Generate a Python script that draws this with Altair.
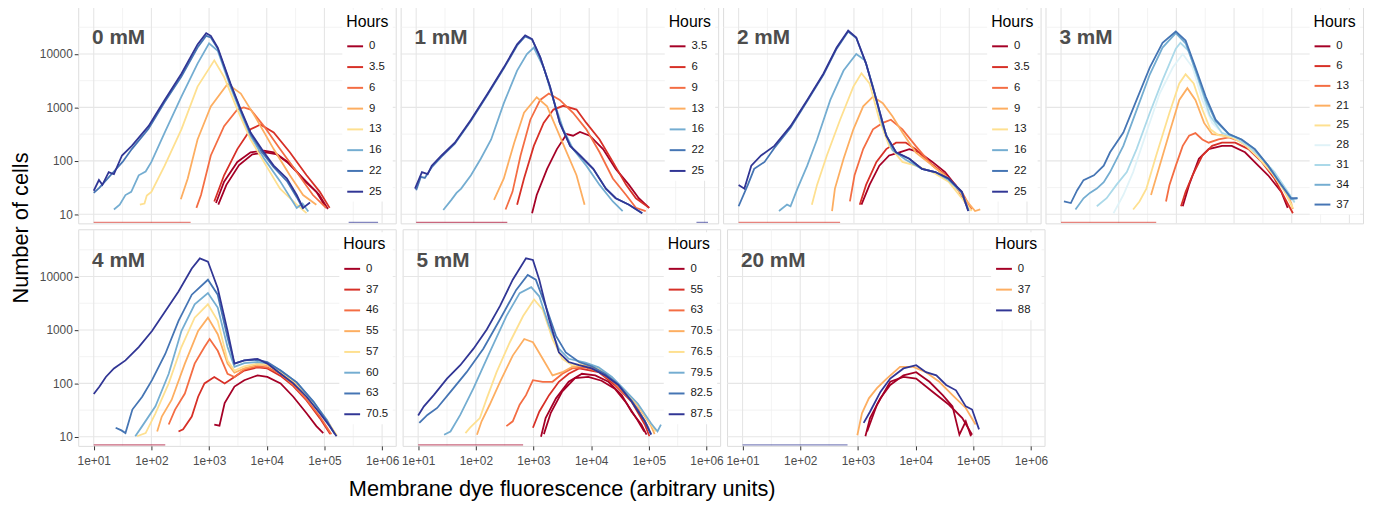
import altair as alt
import pandas as pd

FONT = "Liberation Sans"

PANELS = ["0 mM", "1 mM", "2 mM", "3 mM", "4 mM", "5 mM", "20 mM"]

HOURS = {
    "0 mM": ["0", "3.5", "6", "9", "13", "16", "22", "25"],
    "1 mM": ["3.5", "6", "9", "13", "16", "22", "25"],
    "2 mM": ["0", "3.5", "6", "9", "13", "16", "22", "25"],
    "3 mM": ["0", "6", "13", "21", "25", "28", "31", "34", "37"],
    "4 mM": ["0", "37", "46", "55", "57", "60", "63", "70.5"],
    "5 mM": ["0", "55", "63", "70.5", "76.5", "79.5", "82.5", "87.5"],
    "20 mM": ["0", "37", "88"],
}

COLORS = {
    "0 mM": ["#a50026", "#d73027", "#f46d43", "#fdae61", "#fee090", "#74add1", "#4575b4", "#313695"],
    "1 mM": ["#a50026", "#d73027", "#f46d43", "#fdae61", "#74add1", "#4575b4", "#313695"],
    "2 mM": ["#a50026", "#d73027", "#f46d43", "#fdae61", "#fee090", "#74add1", "#4575b4", "#313695"],
    "3 mM": ["#a50026", "#d73027", "#f46d43", "#fdae61", "#fee090", "#e0f3f8", "#abd9e9", "#74add1", "#4575b4"],
    "4 mM": ["#a50026", "#d73027", "#f46d43", "#fdae61", "#fee090", "#74add1", "#4575b4", "#313695"],
    "5 mM": ["#a50026", "#d73027", "#f46d43", "#fdae61", "#fee090", "#74add1", "#4575b4", "#313695"],
    "20 mM": ["#a50026", "#fdae61", "#313695"],
}

# Each curve: (hours, replicate, [log10 fluorescence, log10 cells, ...])
CURVES_0 = [
    ("0", "a", [3.12, 1.21, 3.26, 1.61, 3.49, 1.98, 3.72, 2.16, 3.95, 2.19, 4.12, 2.16, 4.35, 1.98, 4.63, 1.67, 4.86, 1.42, 5.03, 1.12]),
    ("0", "b", [3.16, 1.18, 3.30, 1.55, 3.52, 1.92, 3.75, 2.12, 3.98, 2.16, 4.18, 2.12, 4.40, 1.95, 4.66, 1.62, 4.90, 1.38, 5.06, 1.10]),
    ("3.5", "a", [3.09, 1.24, 3.26, 1.73, 3.49, 2.22, 3.72, 2.59, 3.89, 2.68, 4.12, 2.53, 4.40, 2.16, 4.69, 1.73, 4.92, 1.42, 5.09, 1.12]),
    ("6", "a", [2.78, 1.12, 2.86, 1.36, 3.03, 2.10, 3.26, 2.65, 3.49, 2.96, 3.60, 3.00, 3.72, 2.96, 3.95, 2.65, 4.23, 2.22, 4.52, 1.79, 4.80, 1.36, 5.03, 1.12]),
    ("9", "a", [2.51, 1.28, 2.63, 1.67, 2.80, 2.40, 3.03, 3.02, 3.32, 3.44, 3.55, 3.26, 3.83, 2.77, 4.12, 2.22, 4.40, 1.73, 4.63, 1.36, 4.86, 1.18]),
    ("13", "a", [1.80, 1.18, 1.88, 1.20, 1.92, 1.35, 2.00, 1.42, 2.23, 1.91, 2.52, 2.59, 2.80, 3.39, 3.09, 3.88, 3.26, 3.57, 3.49, 2.96, 3.72, 2.40, 3.95, 1.98, 4.23, 1.48, 4.52, 1.18, 4.69, 1.02]),
    ("16", "a", [1.35, 1.09, 1.45, 1.18, 1.55, 1.36, 1.65, 1.42, 1.78, 1.73, 1.90, 1.80, 2.00, 1.98, 2.23, 2.53, 2.52, 3.20, 2.80, 3.82, 3.00, 4.20, 3.15, 4.06, 3.37, 3.39, 3.55, 2.90, 3.72, 2.47, 3.95, 2.05, 4.23, 1.62, 4.52, 1.12, 4.62, 1.20, 4.72, 1.05]),
    ("22", "a", [1.00, 1.40, 1.10, 1.50, 1.20, 1.62, 1.35, 1.80, 1.50, 1.98, 1.66, 2.22, 1.95, 2.60, 2.23, 3.10, 2.52, 3.58, 2.80, 4.12, 2.95, 4.34, 3.03, 4.31, 3.15, 4.10, 3.37, 3.43, 3.55, 2.94, 3.72, 2.50, 3.95, 2.12, 4.12, 1.88, 4.35, 1.62, 4.52, 1.32, 4.63, 1.10]),
    ("25", "a", [1.00, 1.44, 1.09, 1.64, 1.15, 1.55, 1.26, 1.79, 1.35, 1.75, 1.49, 2.10, 1.66, 2.28, 1.95, 2.65, 2.23, 3.14, 2.52, 3.63, 2.80, 4.18, 2.95, 4.39, 3.03, 4.34, 3.15, 4.12, 3.37, 3.45, 3.55, 2.96, 3.72, 2.53, 3.95, 2.16, 4.12, 1.91, 4.35, 1.67, 4.52, 1.36, 4.63, 1.12, 4.75, 1.22]),
]
CURVES_1 = [
    ("3.5", "a", [3.01, 1.02, 3.09, 1.36, 3.27, 1.85, 3.44, 2.22, 3.61, 2.50, 3.72, 2.47, 3.84, 2.54, 4.01, 2.47, 4.24, 2.22, 4.46, 1.85, 4.69, 1.55, 4.86, 1.30, 5.04, 1.12]),
    ("6", "a", [2.75, 1.18, 2.87, 1.67, 3.04, 2.28, 3.21, 2.71, 3.38, 2.96, 3.55, 3.03, 3.78, 2.96, 3.95, 2.71, 4.18, 2.40, 4.41, 1.98, 4.64, 1.55, 4.81, 1.30, 5.04, 1.12]),
    ("9", "a", [2.55, 1.09, 2.67, 1.42, 2.81, 2.10, 2.98, 2.77, 3.15, 3.14, 3.30, 3.26, 3.49, 3.14, 3.72, 2.90, 3.95, 2.59, 4.18, 2.16, 4.41, 1.67, 4.64, 1.36, 4.81, 1.12, 4.98, 1.06]),
    ("13", "a", [2.35, 1.27, 2.52, 1.67, 2.70, 2.34, 2.87, 2.90, 3.09, 3.19, 3.27, 3.02, 3.44, 2.59, 3.61, 2.16, 3.78, 1.73, 3.92, 1.18]),
    ("16", "a", [1.47, 1.08, 1.61, 1.27, 1.70, 1.40, 1.78, 1.48, 1.95, 1.73, 2.12, 2.04, 2.30, 2.40, 2.52, 3.08, 2.75, 3.69, 2.92, 4.00, 3.04, 4.12, 3.21, 3.75, 3.38, 3.14, 3.55, 2.59, 3.72, 2.22, 3.95, 1.91, 4.18, 1.55, 4.41, 1.24, 4.58, 1.06]),
    ("22", "a", [1.00, 1.45, 1.08, 1.70, 1.15, 1.68, 1.27, 1.88, 1.44, 2.08, 1.67, 2.32, 1.95, 2.75, 2.24, 3.24, 2.52, 3.73, 2.75, 4.16, 2.89, 4.33, 3.01, 4.27, 3.15, 3.94, 3.32, 3.39, 3.49, 2.71, 3.67, 2.28, 3.84, 2.10, 4.07, 1.85, 4.29, 1.48, 4.46, 1.30, 4.69, 1.18, 4.92, 1.02]),
    ("25", "a", [0.98, 1.48, 1.10, 1.79, 1.20, 1.75, 1.27, 1.91, 1.44, 2.10, 1.67, 2.34, 1.95, 2.77, 2.24, 3.26, 2.52, 3.75, 2.75, 4.18, 2.89, 4.35, 3.01, 4.28, 3.15, 3.94, 3.32, 3.39, 3.49, 2.71, 3.67, 2.28, 3.84, 2.10, 4.07, 1.85, 4.29, 1.48, 4.46, 1.30, 4.69, 1.18, 4.92, 1.02]),
]
CURVES_2 = [
    ("0", "a", [3.13, 1.18, 3.27, 1.55, 3.44, 1.91, 3.61, 2.10, 3.79, 2.16, 3.96, 2.22, 4.13, 2.16, 4.36, 1.98, 4.58, 1.79, 4.81, 1.48, 4.98, 1.12]),
    ("3.5", "a", [3.10, 1.18, 3.21, 1.55, 3.39, 1.98, 3.56, 2.22, 3.73, 2.34, 3.90, 2.34, 4.07, 2.22, 4.30, 1.98, 4.53, 1.79, 4.76, 1.55, 4.98, 1.12]),
    ("6", "a", [2.93, 1.24, 3.01, 1.73, 3.16, 2.22, 3.33, 2.59, 3.50, 2.71, 3.64, 2.77, 3.84, 2.59, 4.07, 2.28, 4.36, 1.91, 4.64, 1.67, 4.87, 1.42, 5.04, 1.09]),
    ("9", "a", [2.62, 1.06, 2.67, 1.48, 2.82, 2.04, 2.99, 2.59, 3.16, 3.02, 3.33, 3.20, 3.50, 3.08, 3.67, 2.83, 3.84, 2.53, 4.07, 2.16, 4.36, 1.91, 4.64, 1.67, 4.87, 1.36, 5.10, 1.06, 5.19, 1.09]),
    ("13", "a", [2.27, 1.18, 2.36, 1.55, 2.53, 2.10, 2.76, 2.77, 2.99, 3.39, 3.13, 3.64, 3.27, 3.45, 3.44, 2.77, 3.61, 2.28, 3.84, 1.98, 4.07, 1.91, 4.36, 1.79, 4.64, 1.61, 4.87, 1.30, 5.04, 1.06]),
    ("16", "a", [1.70, 1.06, 1.84, 1.18, 1.90, 1.15, 2.02, 1.48, 2.19, 1.91, 2.36, 2.40, 2.59, 3.14, 2.82, 3.69, 3.04, 4.00, 3.19, 3.88, 3.33, 3.39, 3.50, 2.65, 3.67, 2.20, 3.90, 2.02, 4.18, 1.85, 4.41, 1.79, 4.64, 1.64, 4.87, 1.40, 4.98, 1.08]),
    ("22", "a", [1.00, 1.15, 1.16, 1.55, 1.27, 1.85, 1.45, 1.98, 1.62, 2.24, 1.90, 2.62, 2.19, 3.12, 2.47, 3.61, 2.70, 4.10, 2.90, 4.42, 3.04, 4.30, 3.21, 3.82, 3.39, 3.14, 3.56, 2.47, 3.73, 2.16, 3.96, 2.04, 4.18, 1.85, 4.41, 1.79, 4.64, 1.67, 4.87, 1.42, 4.99, 1.06]),
    ("25", "a", [1.00, 1.55, 1.10, 1.48, 1.22, 1.91, 1.39, 2.10, 1.62, 2.28, 1.90, 2.65, 2.19, 3.14, 2.47, 3.63, 2.70, 4.12, 2.90, 4.44, 3.04, 4.31, 3.21, 3.82, 3.39, 3.14, 3.56, 2.47, 3.73, 2.16, 3.96, 2.04, 4.18, 1.85, 4.41, 1.79, 4.64, 1.67, 4.87, 1.42, 4.98, 1.06]),
]
CURVES_3 = [
    ("0", "a", [3.11, 1.15, 3.22, 1.55, 3.39, 2.04, 3.56, 2.22, 3.79, 2.28, 3.96, 2.28, 4.19, 2.16, 4.42, 1.91, 4.59, 1.73, 4.82, 1.42, 4.93, 1.12]),
    ("6", "a", [3.08, 1.15, 3.16, 1.42, 3.28, 1.73, 3.45, 2.10, 3.62, 2.28, 3.79, 2.34, 4.02, 2.34, 4.25, 2.22, 4.48, 1.98, 4.70, 1.67, 4.88, 1.30, 5.02, 1.02]),
    ("13", "a", [2.82, 1.24, 2.88, 1.55, 2.99, 1.91, 3.11, 2.28, 3.22, 2.47, 3.33, 2.52, 3.45, 2.40, 3.56, 2.34, 3.73, 2.40, 3.91, 2.44, 4.13, 2.36, 4.36, 2.18, 4.59, 1.90, 4.82, 1.55, 5.00, 1.18]),
    ("21", "a", [2.56, 1.36, 2.71, 1.91, 2.88, 2.53, 3.05, 3.14, 3.19, 3.36, 3.33, 3.14, 3.48, 2.71, 3.62, 2.50, 3.79, 2.48, 4.02, 2.42, 4.25, 2.26, 4.48, 2.02, 4.70, 1.75, 4.93, 1.38, 5.02, 1.10]),
    ("25", "a", [2.25, 1.09, 2.36, 1.24, 2.48, 1.48, 2.65, 2.10, 2.88, 2.90, 3.05, 3.45, 3.16, 3.62, 3.30, 3.45, 3.45, 2.96, 3.59, 2.59, 3.73, 2.48, 3.96, 2.44, 4.19, 2.30, 4.42, 2.06, 4.65, 1.78, 4.88, 1.42, 5.02, 1.12]),
    ("28", "a", [1.91, 1.02, 2.08, 1.36, 2.25, 1.79, 2.48, 2.53, 2.71, 3.26, 2.94, 3.75, 3.11, 4.00, 3.28, 3.75, 3.45, 3.14, 3.62, 2.71, 3.79, 2.53, 4.02, 2.44, 4.25, 2.28, 4.48, 2.04, 4.70, 1.79, 4.93, 1.42, 5.05, 1.24]),
    ("31", "a", [1.62, 1.15, 1.79, 1.30, 1.96, 1.55, 2.14, 1.79, 2.31, 2.22, 2.54, 2.90, 2.76, 3.51, 2.99, 4.10, 3.07, 4.21, 3.22, 4.05, 3.40, 3.45, 3.58, 2.85, 3.79, 2.52, 4.02, 2.44, 4.25, 2.28, 4.48, 2.04, 4.70, 1.79, 4.93, 1.42, 5.05, 1.22]),
    ("34", "a", [1.25, 1.09, 1.39, 1.30, 1.50, 1.40, 1.62, 1.48, 1.74, 1.60, 1.85, 1.79, 2.08, 2.28, 2.31, 2.95, 2.54, 3.62, 2.76, 4.12, 2.99, 4.39, 3.16, 4.20, 3.33, 3.70, 3.51, 3.14, 3.68, 2.74, 3.91, 2.50, 4.13, 2.40, 4.36, 2.22, 4.59, 1.91, 4.82, 1.55, 4.99, 1.28, 5.10, 1.30]),
    ("37", "a", [1.05, 1.24, 1.17, 1.21, 1.28, 1.45, 1.39, 1.64, 1.57, 1.73, 1.74, 1.91, 1.85, 2.16, 2.08, 2.53, 2.31, 3.14, 2.54, 3.75, 2.76, 4.21, 2.99, 4.42, 3.16, 4.25, 3.33, 3.75, 3.51, 3.20, 3.68, 2.77, 3.91, 2.50, 4.13, 2.40, 4.36, 2.22, 4.59, 1.91, 4.82, 1.55, 4.99, 1.30, 5.10, 1.30]),
]
CURVES_4 = [
    ("0", "a", [3.09, 1.23, 3.18, 1.21, 3.27, 1.63, 3.44, 1.94, 3.61, 2.06, 3.84, 2.15, 4.01, 2.12, 4.24, 2.00, 4.46, 1.75, 4.69, 1.44, 4.86, 1.20, 4.98, 1.07]),
    ("37", "a", [2.47, 1.10, 2.55, 1.14, 2.70, 1.38, 2.81, 1.75, 2.92, 2.00, 3.09, 2.12, 3.27, 2.00, 3.44, 2.12, 3.61, 2.24, 3.84, 2.30, 4.01, 2.28, 4.24, 2.14, 4.46, 1.95, 4.69, 1.68, 4.92, 1.35, 5.10, 1.05]),
    ("46", "a", [2.30, 1.23, 2.41, 1.51, 2.58, 1.81, 2.75, 2.37, 2.92, 2.68, 3.01, 2.83, 3.15, 2.61, 3.32, 2.18, 3.44, 2.12, 3.61, 2.26, 3.84, 2.32, 4.01, 2.30, 4.24, 2.18, 4.46, 1.97, 4.69, 1.70, 4.92, 1.38, 5.12, 1.05]),
    ("55", "a", [2.10, 1.10, 2.18, 1.38, 2.35, 1.69, 2.58, 2.37, 2.81, 2.98, 2.98, 3.23, 3.15, 2.92, 3.32, 2.37, 3.44, 2.20, 3.61, 2.28, 3.84, 2.35, 4.01, 2.34, 4.24, 2.20, 4.52, 1.98, 4.81, 1.63, 5.04, 1.32, 5.18, 1.07]),
    ("57", "a", [1.75, 1.01, 1.90, 1.07, 2.07, 1.44, 2.30, 2.00, 2.52, 2.68, 2.75, 3.23, 2.98, 3.48, 3.15, 3.17, 3.32, 2.43, 3.44, 2.24, 3.61, 2.32, 3.84, 2.37, 4.01, 2.36, 4.24, 2.22, 4.52, 2.00, 4.81, 1.63, 5.04, 1.30, 5.22, 1.02]),
    ("60", "a", [1.72, 1.01, 1.84, 1.20, 2.07, 1.57, 2.30, 2.18, 2.52, 2.98, 2.75, 3.48, 2.98, 3.69, 3.15, 3.42, 3.32, 2.68, 3.44, 2.31, 3.61, 2.38, 3.84, 2.40, 4.01, 2.38, 4.24, 2.24, 4.52, 2.02, 4.81, 1.65, 5.04, 1.32, 5.15, 1.10]),
    ("63", "a", [1.38, 1.17, 1.48, 1.12, 1.55, 1.07, 1.67, 1.51, 1.84, 1.75, 2.01, 2.06, 2.24, 2.55, 2.47, 3.17, 2.70, 3.66, 2.98, 3.94, 3.15, 3.66, 3.32, 2.86, 3.44, 2.37, 3.61, 2.43, 3.84, 2.44, 4.01, 2.40, 4.24, 2.24, 4.52, 2.02, 4.81, 1.66, 5.04, 1.30, 5.18, 1.05]),
    ("70.5", "a", [1.00, 1.80, 1.10, 1.94, 1.21, 2.12, 1.35, 2.28, 1.55, 2.43, 1.78, 2.68, 2.01, 2.98, 2.24, 3.35, 2.47, 3.72, 2.70, 4.15, 2.84, 4.34, 2.98, 4.28, 3.15, 3.78, 3.32, 2.98, 3.44, 2.37, 3.61, 2.43, 3.84, 2.46, 4.01, 2.37, 4.24, 2.18, 4.46, 2.00, 4.69, 1.75, 4.92, 1.44, 5.09, 1.20, 5.21, 1.01]),
]
CURVES_5 = [
    ("0", "a", [3.13, 1.00, 3.21, 1.35, 3.39, 1.72, 3.61, 2.03, 3.84, 2.18, 4.07, 2.15, 4.30, 2.03, 4.53, 1.78, 4.70, 1.47, 4.87, 1.23, 4.96, 1.04]),
    ("0", "b", [3.18, 1.05, 3.30, 1.45, 3.50, 1.85, 3.72, 2.10, 3.95, 2.12, 4.18, 2.05, 4.41, 1.90, 4.62, 1.62, 4.80, 1.32, 4.92, 1.10]),
    ("55", "a", [2.99, 1.17, 3.10, 1.47, 3.27, 1.78, 3.44, 2.03, 3.61, 2.18, 3.79, 2.28, 4.13, 2.21, 4.41, 1.97, 4.70, 1.66, 4.93, 1.23, 5.01, 1.01]),
    ("63", "a", [2.53, 1.20, 2.64, 1.29, 2.76, 1.60, 2.87, 1.78, 2.99, 2.06, 3.16, 2.03, 3.33, 2.03, 3.50, 2.18, 3.67, 2.28, 3.90, 2.30, 4.13, 2.22, 4.36, 2.05, 4.58, 1.80, 4.81, 1.52, 5.00, 1.15]),
    ("70.5", "a", [2.02, 1.04, 2.10, 1.29, 2.24, 1.60, 2.42, 2.03, 2.64, 2.52, 2.84, 2.83, 2.99, 2.77, 3.16, 2.46, 3.33, 2.15, 3.50, 2.21, 3.67, 2.31, 3.90, 2.34, 4.13, 2.25, 4.36, 2.08, 4.58, 1.84, 4.81, 1.58, 5.04, 1.20, 5.10, 1.05]),
    ("76.5", "a", [1.82, 1.07, 1.90, 1.17, 2.07, 1.35, 2.19, 1.72, 2.36, 2.21, 2.59, 2.77, 2.82, 3.26, 3.01, 3.57, 3.16, 3.38, 3.33, 2.83, 3.50, 2.46, 3.67, 2.34, 3.90, 2.37, 4.13, 2.28, 4.36, 2.10, 4.58, 1.86, 4.81, 1.60, 5.04, 1.23, 5.12, 1.10]),
    ("79.5", "a", [1.45, 1.04, 1.56, 1.10, 1.73, 1.41, 1.96, 1.91, 2.24, 2.58, 2.53, 3.26, 2.76, 3.69, 2.96, 3.80, 3.10, 3.63, 3.27, 3.08, 3.44, 2.65, 3.61, 2.46, 3.90, 2.39, 4.13, 2.30, 4.36, 2.12, 4.58, 1.88, 4.81, 1.62, 5.04, 1.25, 5.15, 1.10, 5.21, 1.23]),
    ("82.5", "a", [1.02, 1.26, 1.16, 1.41, 1.33, 1.54, 1.56, 1.84, 1.84, 2.21, 2.13, 2.65, 2.42, 3.20, 2.70, 3.75, 2.90, 4.03, 3.04, 3.94, 3.21, 3.45, 3.39, 2.89, 3.56, 2.58, 3.79, 2.40, 4.01, 2.32, 4.24, 2.18, 4.47, 1.98, 4.70, 1.68, 4.93, 1.30, 5.04, 1.05]),
    ("87.5", "a", [1.00, 1.40, 1.10, 1.57, 1.27, 1.78, 1.50, 2.09, 1.73, 2.34, 1.96, 2.65, 2.19, 3.01, 2.42, 3.45, 2.64, 3.94, 2.87, 4.34, 2.99, 4.31, 3.10, 3.94, 3.27, 3.20, 3.44, 2.58, 3.61, 2.40, 3.79, 2.34, 4.01, 2.28, 4.24, 2.15, 4.47, 1.97, 4.70, 1.66, 4.93, 1.29, 5.04, 1.04]),
]
CURVES_20 = [
    ("0", "a", [3.13, 1.01, 3.21, 1.35, 3.39, 1.72, 3.56, 1.97, 3.79, 2.15, 4.01, 2.21, 4.24, 2.03, 4.47, 1.78, 4.64, 1.57, 4.76, 1.04, 4.87, 1.29, 4.96, 1.01]),
    ("0", "b", [3.16, 1.10, 3.33, 1.60, 3.56, 2.03, 3.79, 2.12, 4.01, 2.09, 4.30, 1.84, 4.58, 1.60, 4.81, 1.35, 4.98, 1.04]),
    ("37", "a", [2.99, 1.03, 3.07, 1.44, 3.19, 1.72, 3.33, 1.91, 3.50, 2.09, 3.73, 2.31, 3.96, 2.31, 4.18, 2.21, 4.41, 2.03, 4.64, 1.78, 4.87, 1.54, 5.04, 1.23]),
    ("88", "a", [3.10, 1.26, 3.21, 1.47, 3.39, 1.84, 3.56, 2.09, 3.79, 2.28, 4.01, 2.34, 4.18, 2.21, 4.36, 2.15, 4.53, 1.97, 4.70, 1.87, 4.87, 1.57, 4.98, 1.51, 5.10, 1.14]),
]
CURVES = {"0 mM": CURVES_0, "1 mM": CURVES_1, "2 mM": CURVES_2, "3 mM": CURVES_3,
          "4 mM": CURVES_4, "5 mM": CURVES_5, "20 mM": CURVES_20}

# stretches with zero cells, drawn along the bottom edge: (hours, log10 start, log10 end)
ZEROS = {
    "0 mM": [("3.5", 1.0, 2.68), ("25", 5.42, 5.93)],
    "1 mM": [("3.5", 1.0, 2.58), ("25", 5.86, 6.06)],
    "2 mM": [("3.5", 1.0, 2.76)],
    "3 mM": [("6", 1.0, 2.65)],
    "4 mM": [("0", 1.0, 2.24)],
    "5 mM": [("0", 1.0, 2.82)],
    "20 mM": [("88", 1.0, 2.82)],
}
FLOOR_EXP = 0.85

X_MAJOR_EXP = [1, 2, 3, 4, 5, 6]
X_MINOR_EXP = [1.5, 2.5, 3.5, 4.5, 5.5]
Y_MAJOR_EXP = [1, 2, 3, 4]
Y_MINOR_EXP = [1.5, 2.5, 3.5, 4.5]
X_DOMAIN_EXP = [0.731, 6.236]
Y_DOMAIN_EXP = [0.83, 4.884]

PANEL_W = 321
PANEL_H = 219

xs = alt.Scale(type="log", domain=[10 ** X_DOMAIN_EXP[0], 10 ** X_DOMAIN_EXP[1]], nice=False)
ys = alt.Scale(type="log", domain=[10 ** Y_DOMAIN_EXP[0], 10 ** Y_DOMAIN_EXP[1]], nice=False)


def curve_frame(panel):
    rows = []
    for hour, rep, pts in CURVES[panel]:
        for i in range(0, len(pts), 2):
            rows.append({"hour": hour, "rep": rep, "i": i, "fluor": 10 ** pts[i], "cells": 10 ** pts[i + 1]})
    order = {h: n for n, h in enumerate(HOURS[panel])}
    df = pd.DataFrame(rows)
    df["rank"] = df["hour"].map(order)
    return df.sort_values(["rank", "rep", "i"], kind="stable")


def zero_frame(panel):
    rows = []
    for k, (hour, a, b) in enumerate(ZEROS[panel]):
        rows.append({"hour": hour, "rep": "z%d" % k, "fluor": 10 ** a, "cells": 10 ** FLOOR_EXP})
        rows.append({"hour": hour, "rep": "z%d" % k, "fluor": 10 ** b, "cells": 10 ** FLOOR_EXP})
    return pd.DataFrame(rows)


AXIS_STYLE = dict(grid=False, domain=False, ticks=True, tickSize=4, tickColor="#333333",
                  tickWidth=1, labelFont=FONT, labelFontSize=12, labelColor="#4d4d4d",
                  title=None)


def panel_chart(panel, show_x, show_y):
    xaxis = alt.Axis(values=[10 ** e for e in X_MAJOR_EXP],
                     labelExpr="'1e+0' + round(log(datum.value) / LN10)",
                     labelPadding=6, **AXIS_STYLE) if show_x else None
    yaxis = alt.Axis(values=[10 ** e for e in Y_MAJOR_EXP], format="d",
                     labelPadding=2, **AXIS_STYLE) if show_y else None

    gx_minor = alt.Chart(pd.DataFrame({"v": [10 ** e for e in X_MINOR_EXP]})).mark_rule(
        color="#f0f0f0", strokeWidth=0.8).encode(x=alt.X("v:Q", scale=xs, axis=xaxis))
    gy_minor = alt.Chart(pd.DataFrame({"v": [10 ** e for e in Y_MINOR_EXP]})).mark_rule(
        color="#f0f0f0", strokeWidth=0.8).encode(y=alt.Y("v:Q", scale=ys, axis=yaxis))
    gx_major = alt.Chart(pd.DataFrame({"v": [10 ** e for e in X_MAJOR_EXP]})).mark_rule(
        color="#e6e6e6", strokeWidth=1.1).encode(x=alt.X("v:Q", scale=xs, axis=xaxis))
    gy_major = alt.Chart(pd.DataFrame({"v": [10 ** e for e in Y_MAJOR_EXP]})).mark_rule(
        color="#e6e6e6", strokeWidth=1.1).encode(y=alt.Y("v:Q", scale=ys, axis=yaxis))

    hours = HOURS[panel]
    row_pad = 5 if len(hours) > 8 else 6
    color = alt.Color("hour:N", sort=hours,
                      scale=alt.Scale(domain=hours, range=COLORS[panel]),
                      legend=alt.Legend(orient="top-right", title="Hours",
                                        titleFont=FONT, titleFontSize=16, titleFontWeight="normal",
                                        titleColor="#000000", titlePadding=8,
                                        labelFont=FONT, labelFontSize=11.5, labelColor="#1a1a1a",
                                        labelOffset=5, symbolType="stroke", symbolSize=256,
                                        symbolStrokeWidth=2, symbolOpacity=1,
                                        rowPadding=row_pad, offset=3, padding=4,
                                        fillColor="white"))
    lines = alt.Chart(curve_frame(panel)).mark_line(strokeWidth=1.8, clip=True).encode(
        x=alt.X("fluor:Q", scale=xs, axis=xaxis),
        y=alt.Y("cells:Q", scale=ys, axis=yaxis),
        color=color, detail="rep:N")
    zeros = alt.Chart(zero_frame(panel)).mark_line(strokeWidth=1.3, opacity=0.6, clip=True).encode(
        x=alt.X("fluor:Q", scale=xs, axis=xaxis),
        y=alt.Y("cells:Q", scale=ys, axis=yaxis),
        color=color, detail="rep:N")
    label = alt.Chart(pd.DataFrame({"label": [panel]})).mark_text(
        align="left", baseline="alphabetic", font=FONT, fontSize=21, fontWeight="bold",
        color="#4d4d4d").encode(x=alt.value(14), y=alt.value(38), text="label:N")

    return alt.layer(gx_minor, gy_minor, gx_major, gy_major, lines, zeros, label).properties(
        width=PANEL_W, height=PANEL_H)


top = alt.hconcat(
    panel_chart("0 mM", False, True),
    panel_chart("1 mM", False, False),
    panel_chart("2 mM", False, False),
    panel_chart("3 mM", False, False),
    spacing=1,
).resolve_scale(color="independent").resolve_legend(color="independent")

bottom = alt.hconcat(
    panel_chart("4 mM", True, True),
    panel_chart("5 mM", True, False),
    panel_chart("20 mM", True, False),
    spacing=1,
).resolve_scale(color="independent").resolve_legend(color="independent").properties(
    title=alt.TitleParams("Membrane dye fluorescence (arbitrary units)", orient="bottom",
                          anchor="middle", font=FONT, fontSize=22, fontWeight="normal",
                          color="#000000", offset=12, dx=19))

chart = alt.vconcat(top, bottom, spacing=2).resolve_scale(color="independent").resolve_legend(
    color="independent").properties(
    title=alt.TitleParams("Number of cells", orient="left", anchor="middle", font=FONT,
                          fontSize=22, fontWeight="normal", color="#000000", offset=6, dx=25),
    padding={"left": 2, "top": -6, "right": 0, "bottom": 0},
).configure_view(stroke="#737373", strokeWidth=1.3).configure(background="white")

chart.save("out.html", embed_options={"renderer": "svg", "actions": False})
